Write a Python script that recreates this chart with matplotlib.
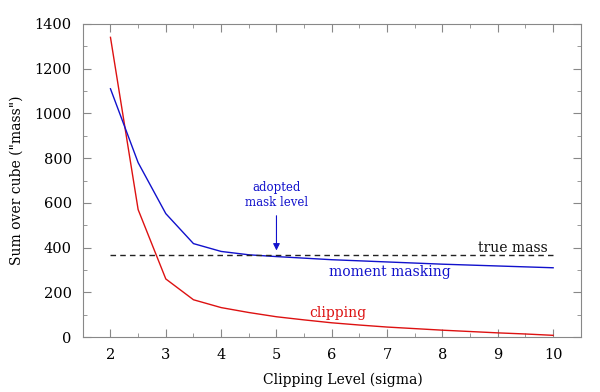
import matplotlib
matplotlib.use("Agg")
from matplotlib import pyplot as plt
from matplotlib.ticker import MultipleLocator

# clipping level (sigma)
sigma = [2, 2.5, 3, 3.5, 4, 4.5, 5, 5.5, 6, 6.5, 7, 7.5, 8, 8.5, 9, 9.5, 10]

# sum over cube for the two methods
clipping = [1340, 570, 260, 167, 132, 110, 91, 77, 64, 54, 45, 38, 31, 25, 19, 14, 8]
moment_masking = [1110, 780, 552, 418, 383, 368, 360, 353, 346, 341, 336, 331, 326, 322, 318, 314, 310]

true_mass = 365
adopted_level = 5

plt.rcParams['font.family'] = ['DejaVu Serif']
fig = plt.figure(figsize=(6, 3.92), dpi=100)
ax = fig.add_axes([0.138, 0.140, 0.830, 0.799])

ax.plot(sigma, clipping, color="#dd1111", lw=1.0)
ax.plot(sigma, moment_masking, color="#1111cc", lw=1.0)
ax.plot([sigma[0], sigma[-1]], [true_mass, true_mass], color="#222222", lw=1.0, ls=(0, (4, 3)))

ax.annotate("", xy=(adopted_level, 375), xytext=(adopted_level, 555),
            arrowprops=dict(arrowstyle="-|>", color="#1111cc", lw=0.8, mutation_scale=10))
ax.text(adopted_level, 635, "adopted\nmask level", color="#1111cc", fontsize=8.5,
        ha="center", va="center", linespacing=1.2)
ax.text(9.9, 400, "true mass", color="#111111", fontsize=10, ha="right", va="center")
ax.text(7.05, 290, "moment masking", color="#1111cc", fontsize=10, ha="center", va="center")
ax.text(6.1, 107, "clipping", color="#dd1111", fontsize=10, ha="center", va="center")

ax.set_xlim(1.5, 10.5)
ax.set_ylim(0, 1400)
ax.xaxis.set_major_locator(MultipleLocator(1))
ax.xaxis.set_minor_locator(MultipleLocator(0.5))
ax.yaxis.set_major_locator(MultipleLocator(200))
ax.yaxis.set_minor_locator(MultipleLocator(100))
ax.tick_params(which="both", direction="in", top=True, right=True, color="#888888",
               labelsize=10.5, pad=8)
ax.tick_params(which="major", length=6)
ax.tick_params(which="minor", length=3)
for s in ax.spines.values():
    s.set_color("#888888")

ax.set_xlabel("Clipping Level (sigma)", fontsize=10, labelpad=8)
ax.xaxis.set_label_coords(0.522, -0.112)
ax.set_ylabel('Sum over cube ("mass")', fontsize=10, labelpad=8)

plt.savefig("out.png", dpi=100)
plt.close()
